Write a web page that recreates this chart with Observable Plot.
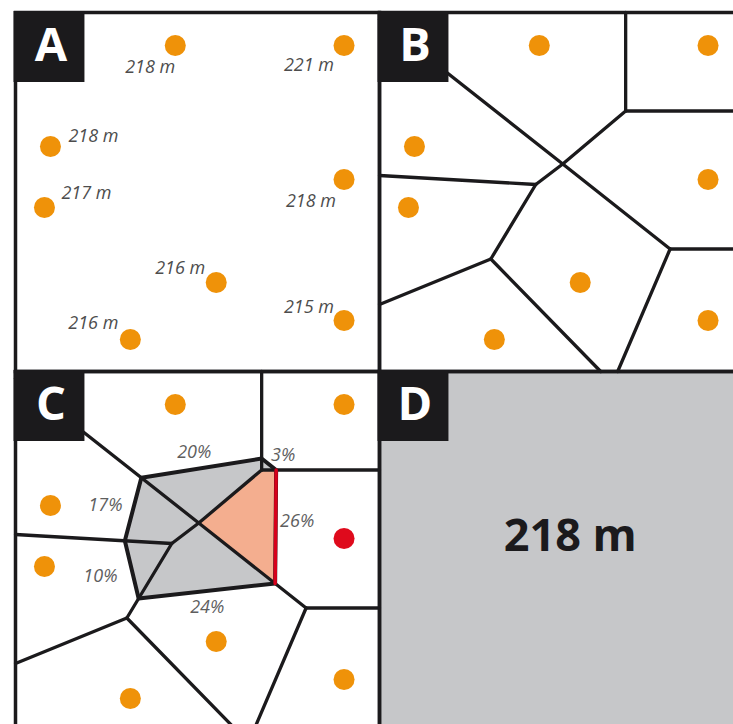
<!DOCTYPE html>
<html>
<head>
<meta charset="utf-8">
<script src="https://cdn.jsdelivr.net/npm/d3@7"></script>
<script src="https://cdn.jsdelivr.net/npm/@observablehq/plot@0.6"></script>
<style>
  html, body { margin: 0; padding: 0; background: #fff; overflow: hidden; }
</style>
</head>
<body>
<div id="chart"></div>
<script>
// ---------- data (panel coordinates) ----------
const stationX   = [160, 329, 35, 29, 329, 201, 115, 329];
const stationY   = [33, 33, 134, 195, 167, 270, 327, 308];
const elevation  = [218, 221, 218, 217, 218, 216, 216, 215];
const weightPct  = [20, 3, 17, 10, 26, 24, null, null];   // natural-neighbour shares (%)
const targetXY   = [191, 165];                           // interpolation location
const highlightIndex = 4;                                // station shown in red
const resultElevation = 218;
const panelNames = ["A", "B", "C", "D"];

// Thiessen-polygon edges as drawn in the figure: [x1, y1, x2, y2]
const thiessenEdges = [
  [246.5, 0, 246.5, 98.5],
  [246.5, 98.5, 364.5, 98.5],
  [246.5, 98.5, 183.5, 151.5],
  [0, 7, 183.5, 151.5],
  [183.5, 151.5, 156.5, 172],
  [183.5, 151.5, 291, 236.5],
  [291, 236.5, 364.5, 236.5],
  [291, 236.5, 238.5, 359],
  [156.5, 172, 0, 163],
  [156.5, 172, 111.5, 246.5],
  [111.5, 246.5, 0, 292],
  [111.5, 246.5, 221.5, 359]
];
// Thiessen polygon of the highlighted station
const highlightCellX = [246.5, 364.5, 364.5, 291, 183.5];
const highlightCellY = [98.5, 98.5, 236.5, 236.5, 151.5];
// new polygon inserted around the interpolation location
const newCellX = [126, 246.5, 261, 260, 123.3, 109.5];
const newCellY = [106.2, 87, 98.5, 212, 227, 169.3];

// ---------- layout (not data) ----------
const W = 364.5, H = 359;                                 // panel extent in plot units
const elevLabelOffset = [[0, 22, "end"], [-10, 20, "end"], [18, -10, "start"], [17, -14, "start"],
                         [-8, 22, "end"], [-11, -14, "end"], [-12, -16, "end"], [-10, -13, "end"]];
const weightLabelPos = [[179, 81], [268, 84], [90, 134], [85, 205], [282, 150], [192, 236]];

// ---------- derived tables ----------
const panels = panelNames.map((name, i) => ({name, col: i % 2, row: Math.floor(i / 2)}));
const stations = stationX.map((x, i) => ({i, x, y: stationY[i], elev: elevation[i], w: weightPct[i]}));
function inPanels(rows, names) {
  return names.flatMap(n => {
    const p = panels.find(q => q.name === n);
    return rows.map(r => ({...r, panel: n, col: p.col, row: p.row}));
  });
}

const newCell = newCellX.map((x, i) => [x, newCellY[i]]);
const redCell = highlightCellX.map((x, i) => [x, highlightCellY[i]]);

function cross(a, b, p) { return (b[0] - a[0]) * (p[1] - a[1]) - (b[1] - a[1]) * (p[0] - a[0]); }
function area(poly) {
  let s = 0;
  for (let i = 0; i < poly.length; i++) { const a = poly[i], b = poly[(i + 1) % poly.length]; s += a[0] * b[1] - b[0] * a[1]; }
  return s;
}
function intersect(p, q, a, b) {
  const d1 = cross(a, b, p), d2 = cross(a, b, q), t = d1 / (d1 - d2);
  return [p[0] + t * (q[0] - p[0]), p[1] + t * (q[1] - p[1])];
}
function clipPolygon(subject, clipper) {
  const sgn = Math.sign(area(clipper));
  let out = subject;
  for (let i = 0; i < clipper.length; i++) {
    const a = clipper[i], b = clipper[(i + 1) % clipper.length];
    const inside = p => sgn * cross(a, b, p) >= -1e-9;
    const inp = out; out = [];
    for (let j = 0; j < inp.length; j++) {
      const cur = inp[j], prev = inp[(j + inp.length - 1) % inp.length];
      const ci = inside(cur), pi = inside(prev);
      if (ci) { if (!pi) out.push(intersect(prev, cur, a, b)); out.push(cur); }
      else if (pi) out.push(intersect(prev, cur, a, b));
    }
  }
  return out;
}
const shareCell = clipPolygon(newCell, redCell);

// edge of the new polygon that lies inside the highlighted station's polygon
let redEdge = [];
for (let i = 0; i < newCell.length; i++) {
  const a = newCell[i], b = newCell[(i + 1) % newCell.length];
  if (d3.polygonContains(redCell, [(a[0] + b[0]) / 2, (a[1] + b[1]) / 2])) redEdge = [a, b];
}
const toRows = poly => inPanels(poly.map(([x, y]) => ({x, y})), ["C"]);
const edgeRows = inPanels(thiessenEdges.map(([x1, y1, x2, y2]) => ({x1, y1, x2, y2})), ["B", "C"]);

const elevRows = inPanels(stations, ["A"]).map(d => ({
  ...d, lx: d.x + elevLabelOffset[d.i][0], ly: d.y + elevLabelOffset[d.i][1], anchor: elevLabelOffset[d.i][2]
}));
const weightRows = inPanels(stations.filter(s => s.w != null), ["C"]).map((d, k) => ({
  ...d, lx: weightLabelPos[k][0], ly: weightLabelPos[k][1]
}));

const ORANGE = "#ef9209", RED = "#df0a1c", INK = "#1b1a1c", GREY = "#c6c7c9";
const common = {fx: "col", fy: "row"};

const chart = Plot.plot({
  width: 733, height: 724,
  marginLeft: 14, marginTop: 12, marginRight: -10, marginBottom: -6,
  style: {fontFamily: "'Open Sans', sans-serif", background: "white"},
  fx: {domain: [0, 1], padding: 0, axis: null},
  fy: {domain: [0, 1], padding: 0, axis: null},
  x: {domain: [0, W], axis: null},
  y: {domain: [0, H], axis: null, reverse: true},
  marks: [
    // panel D background
    Plot.rect(inPanels([{}], ["D"]), {...common, x1: 0, x2: W, y1: 0, y2: H, fill: GREY}),
    // panel C: new polygon and the share taken from the red station
    Plot.line(toRows(newCell), {...common, x: "x", y: "y", curve: "linear-closed", fill: GREY, stroke: "none"}),
    Plot.line(toRows(shareCell), {...common, x: "x", y: "y", curve: "linear-closed", fill: "#f4ae8f", stroke: "none"}),
    // Thiessen polygons (B, C)
    Plot.link(edgeRows, {...common, x1: "x1", y1: "y1", x2: "x2", y2: "y2", stroke: INK, strokeWidth: 3.3, strokeLinecap: "round"}),
    Plot.line(toRows(newCell), {...common, x: "x", y: "y", curve: "linear-closed", fill: "none", stroke: INK, strokeWidth: 4, strokeLinejoin: "round"}),
    Plot.line(toRows(redEdge), {...common, x: "x", y: "y", stroke: "#d7001b", strokeWidth: 3.5}),
    // stations
    Plot.dot(inPanels(stations, ["A", "B", "C"]).filter(d => !(d.panel === "C" && d.i === highlightIndex)),
      {...common, x: "x", y: "y", r: 10.5, fill: ORANGE, stroke: "none"}),
    Plot.dot(inPanels(stations.filter(s => s.i === highlightIndex), ["C"]),
      {...common, x: "x", y: "y", r: 10.5, fill: RED, stroke: "none"}),
    // elevation labels (A)
    Plot.text(elevRows.filter(d => d.anchor === "end"), {...common, x: "lx", y: "ly", text: d => `${d.elev} m`,
      textAnchor: "end", fontSize: 18, fontStyle: "italic", fill: "#4d4d4d"}),
    Plot.text(elevRows.filter(d => d.anchor === "start"), {...common, x: "lx", y: "ly", text: d => `${d.elev} m`,
      textAnchor: "start", fontSize: 18, fontStyle: "italic", fill: "#4d4d4d"}),
    // weights (C)
    Plot.text(weightRows, {...common, x: "lx", y: "ly", text: d => `${d.w}%`,
      fontSize: 18, fontStyle: "italic", fill: "#5e5e5e"}),
    // result (D)
    Plot.text(inPanels([{x: targetXY[0], y: targetXY[1], v: resultElevation}], ["D"]),
      {...common, x: "x", y: "y", text: d => `${d.v} m`, fontSize: 45, fontWeight: 700, fill: INK}),
    // frames
    Plot.frame({stroke: INK, strokeWidth: 3.5}),
    // panel letter boxes
    Plot.dot(panels, {...common, frameAnchor: "top-left", dx: 33.5, dy: 34, symbol: "square", r: 40, fill: INK, stroke: "none"}),
    Plot.text(panels, {...common, frameAnchor: "top-left", dx: 35.5, dy: 33, text: "name",
      textAnchor: "middle", lineAnchor: "middle", fill: "white", fontSize: 47, fontWeight: 700})
  ]
});
document.getElementById("chart").append(chart);
</script>
</body>
</html>
